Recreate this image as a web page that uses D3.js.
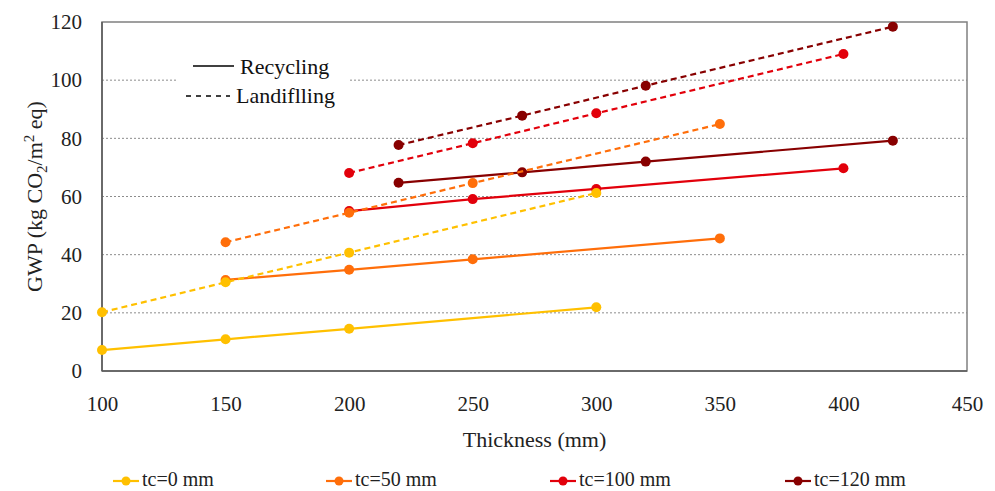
<!DOCTYPE html>
<html>
<head>
<meta charset="utf-8">
<script src="https://cdn.jsdelivr.net/npm/d3@7/dist/d3.min.js"></script>
<style>
  html, body { margin: 0; padding: 0; background: #fff; }
  svg { display: block; font-family: "Liberation Serif", "DejaVu Serif", serif; }
</style>
</head>
<body>
<svg id="chart" width="995" height="491"></svg>
<script>
// Series definitions: core thickness tc, with GWP for recycling and landfilling end-of-life
const seriesNames = ["tc=0 mm", "tc=50 mm", "tc=100 mm", "tc=120 mm"];
const seriesColors = ["#FFC000", "#FF6E0A", "#E2000B", "#880000"];

const thickness0 = [100, 150, 200, 300];
const thickness50 = [150, 200, 250, 350];
const thickness100 = [200, 250, 300, 400];
const thickness120 = [220, 270, 320, 420];

const recycling0 = [7.2, 10.9, 14.5, 21.9];
const recycling50 = [31.3, 34.8, 38.4, 45.6];
const recycling100 = [55.0, 59.1, 62.6, 69.7];
const recycling120 = [64.7, 68.3, 72.0, 79.2];

const landfilling0 = [20.2, 30.5, 40.7, 61.2];
const landfilling50 = [44.3, 54.4, 64.6, 84.9];
const landfilling100 = [68.1, 78.3, 88.6, 109.0];
const landfilling120 = [77.7, 87.8, 98.1, 118.4];

const xTicks = [100, 150, 200, 250, 300, 350, 400, 450];
const yTicks = [0, 20, 40, 60, 80, 100, 120];

const thicknesses = [thickness0, thickness50, thickness100, thickness120];
const recycling = [recycling0, recycling50, recycling100, recycling120];
const landfilling = [landfilling0, landfilling50, landfilling100, landfilling120];

const svg = d3.select("#chart");
const m = { left: 102, right: 967, top: 22, bottom: 371 };

const x = d3.scaleLinear().domain([100, 450]).range([m.left, m.right]);
const y = d3.scaleLinear().domain([0, 120]).range([m.bottom, m.top]);

// Horizontal dotted gridlines
svg.append("g")
  .selectAll("line")
  .data(yTicks.filter(t => t > 0 && t < 120))
  .join("line")
  .attr("x1", m.left).attr("x2", m.right)
  .attr("y1", d => y(d)).attr("y2", d => y(d))
  .attr("stroke", "#8c8c8c")
  .attr("stroke-width", 1)
  .attr("stroke-dasharray", "2,2");

// Plot frame
svg.append("rect")
  .attr("x", m.left).attr("y", m.top)
  .attr("width", m.right - m.left).attr("height", m.bottom - m.top)
  .attr("fill", "none")
  .attr("stroke", "#808080")
  .attr("stroke-width", 1.5);
svg.append("line")
  .attr("x1", m.left).attr("x2", m.left).attr("y1", m.top).attr("y2", m.bottom)
  .attr("stroke", "#595959").attr("stroke-width", 1.5);
svg.append("line")
  .attr("x1", m.left).attr("x2", m.right).attr("y1", m.bottom).attr("y2", m.bottom)
  .attr("stroke", "#595959").attr("stroke-width", 1.5);

// Axes (labels only)
const xAxis = svg.append("g")
  .attr("transform", `translate(0,${m.bottom})`)
  .call(d3.axisBottom(x).tickValues(xTicks).tickSize(0).tickPadding(25).tickFormat(d3.format("d")));
const yAxis = svg.append("g")
  .attr("transform", `translate(${m.left},0)`)
  .call(d3.axisLeft(y).tickValues(yTicks).tickSize(0).tickPadding(20).tickFormat(d3.format("d")));
[xAxis, yAxis].forEach(a => {
  a.select(".domain").remove();
  a.selectAll("text")
    .attr("font-family", "Liberation Serif, serif")
    .attr("font-size", 21)
    .attr("fill", "#222");
});

// Axis titles
svg.append("text")
  .attr("x", (m.left + m.right) / 2).attr("y", 447)
  .attr("text-anchor", "middle")
  .attr("font-size", 22).attr("fill", "#222")
  .text("Thickness (mm)");

const yTitle = svg.append("text")
  .attr("transform", `translate(42,${(m.top + m.bottom) / 2}) rotate(-90)`)
  .attr("text-anchor", "middle")
  .attr("font-size", 22).attr("fill", "#222");
yTitle.append("tspan").text("GWP (kg CO");
yTitle.append("tspan").attr("font-size", 15).attr("dy", 5).text("2");
yTitle.append("tspan").attr("dy", -5).text("/m");
yTitle.append("tspan").attr("font-size", 15).attr("dy", -8).text("2");
yTitle.append("tspan").attr("dy", 8).text(" eq)");

const line = d3.line().x(d => x(d[0])).y(d => y(d[1]));

function drawSeries(valuesList, dashed) {
  valuesList.forEach((vals, i) => {
    const pts = thicknesses[i].map((t, j) => [t, vals[j]]);
    const g = svg.append("g");
    g.append("path")
      .attr("d", line(pts))
      .attr("fill", "none")
      .attr("stroke", seriesColors[i])
      .attr("stroke-width", 2.2)
      .attr("stroke-dasharray", dashed ? "6,4" : null);
    g.selectAll("circle")
      .data(pts)
      .join("circle")
      .attr("cx", d => x(d[0])).attr("cy", d => y(d[1]))
      .attr("r", 5)
      .attr("fill", seriesColors[i]);
  });
}

drawSeries(recycling, false);
drawSeries(landfilling, true);

// In-plot legend for line style
const lg = svg.append("g");
lg.append("rect")
  .attr("x", 176).attr("y", 50).attr("width", 172).attr("height", 60)
  .attr("fill", "#fff");
lg.append("line")
  .attr("x1", 193).attr("x2", 234).attr("y1", 66).attr("y2", 66)
  .attr("stroke", "#000").attr("stroke-width", 1.5);
lg.append("text")
  .attr("x", 240).attr("y", 74)
  .attr("font-size", 22).attr("fill", "#111")
  .text("Recycling");
lg.append("line")
  .attr("x1", 186).attr("x2", 230).attr("y1", 96).attr("y2", 96)
  .attr("stroke", "#000").attr("stroke-width", 1.5)
  .attr("stroke-dasharray", "5,5");
lg.append("text")
  .attr("x", 236).attr("y", 103)
  .attr("font-size", 22).attr("fill", "#111")
  .text("Landiflling");

// Bottom legend for core thickness
const legendX = [113, 326, 550, 785];
const bl = svg.append("g");
seriesNames.forEach((name, i) => {
  const g = bl.append("g").attr("transform", `translate(${legendX[i]},481)`);
  g.append("line")
    .attr("x1", 0).attr("x2", 26).attr("y1", 0).attr("y2", 0)
    .attr("stroke", seriesColors[i]).attr("stroke-width", 2.2);
  g.append("circle").attr("cx", 13).attr("cy", 0).attr("r", 4.5).attr("fill", seriesColors[i]);
  g.append("text")
    .attr("x", 29).attr("y", 5)
    .attr("font-size", 20).attr("fill", "#222")
    .text(name);
});
</script>
</body>
</html>
